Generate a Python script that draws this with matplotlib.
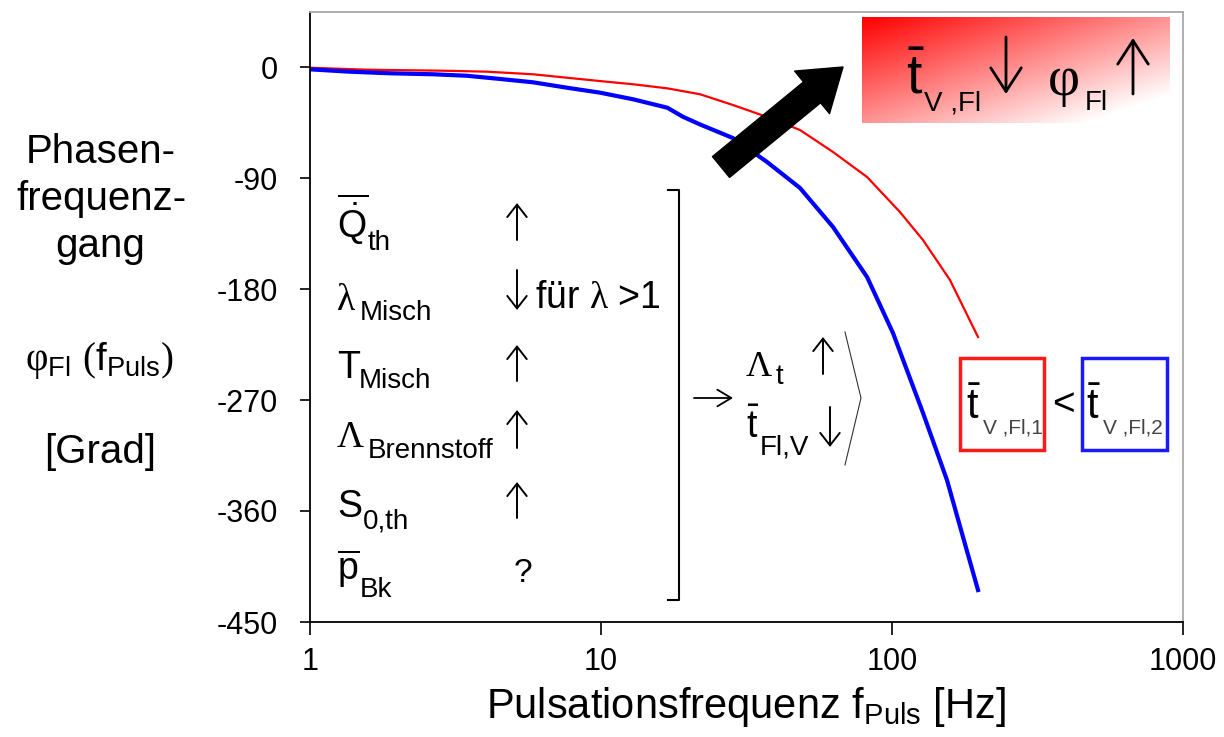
import numpy as np
import matplotlib.pyplot as plt
from matplotlib.patches import Rectangle
from matplotlib.lines import Line2D
from matplotlib.ticker import NullLocator

plt.rcParams['font.family'] = ['Liberation Sans', 'DejaVu Sans']
plt.rcParams['mathtext.fontset'] = 'custom'
plt.rcParams['mathtext.rm'] = 'Liberation Sans'
plt.rcParams['mathtext.it'] = 'Liberation Sans:italic'
plt.rcParams['mathtext.sf'] = 'Liberation Serif'
plt.rcParams['mathtext.bf'] = 'Liberation Sans:bold'

# phase response (frequency in Hz, phase in degrees)
freq_red = [1.0, 1.57, 2.86, 4.06, 5.84, 7.64, 9.92, 12.9, 16.9, 21.9, 28.4, 37.2,
            48.3, 62.7, 82.1, 106.5, 127.8, 158.2, 197.5]
phase_red = [-0.6, -2.2, -3.0, -3.8, -5.9, -8.7, -11.4, -14.0, -17.3, -22.1, -30.8,
             -40.5, -51.1, -68.9, -89.2, -117.6, -140.3, -172.7, -218.9]

freq_blue = [1.0, 1.37, 1.88, 2.65, 3.46, 4.50, 5.84, 7.64, 9.92, 12.9, 16.9, 19.1,
             21.9, 28.4, 37.2, 48.3, 62.7, 82.1, 100.8, 127.8, 154.5, 175.4, 197.5]
phase_blue = [-1.9, -3.8, -5.1, -5.9, -7.1, -9.7, -12.4, -16.8, -20.8, -26.2, -33.0,
              -40.3, -46.6, -57.6, -77.0, -98.1, -129.7, -170.3, -215.7, -280.5,
              -334.9, -381.1, -424.1]

xticks = [1, 10, 100, 1000]
xtick_labels = ['1', '10', '100', '1000']
yticks = [0, -90, -180, -270, -360, -450]
ytick_labels = ['0', '-90', '-180', '-270', '-360', '-450']

W, H = 1224, 737
SANS = ['Liberation Sans', 'DejaVu Sans']
SERIF = ['Liberation Serif', 'DejaVu Serif']

fig = plt.figure(figsize=(W / 100, H / 100), dpi=100)
ax = fig.add_axes([310 / W, 1 - 622 / H, (1183 - 310) / W, (622 - 11.5) / H])

ax.plot(freq_red, phase_red, color='#ff0000', lw=1.6)
ax.plot(freq_blue, phase_blue, color='#0000ff', lw=3)

ax.set_xscale('log')
ax.set_xlim(1, 1000)
ax.set_ylim(-450, 45)
ax.set_xticks(xticks)
ax.set_xticklabels(xtick_labels)
ax.xaxis.set_minor_locator(NullLocator())
ax.set_yticks(yticks)
ax.set_yticklabels(ytick_labels)
ax.tick_params(axis='y', direction='out', length=7, width=1.2, pad=16, labelsize=22)
ax.tick_params(axis='x', direction='out', length=9, width=1.2, pad=9, labelsize=22)
for side in ['top', 'right']:
    ax.spines[side].set_color('#a8a8a8')
    ax.spines[side].set_linewidth(1.3)
for side in ['left', 'bottom']:
    ax.spines[side].set_linewidth(1.3)

# gradient box top right
gax = fig.add_axes([862 / W, 1 - 123 / H, 308 / W, 106 / H])
u, v = np.meshgrid(np.linspace(0, 1, 200), np.linspace(0, 1, 80))
t = np.clip((u + v) / 2 * 1.15, 0, 1)
grad = np.dstack([np.ones_like(t), t, t])
gax.imshow(grad, aspect='auto', interpolation='bilinear')
gax.axis('off')


def ftext(x, y, s, size, family=SANS, ha='left', va='baseline', **kw):
    return fig.text(x / W, 1 - y / H, s, fontsize=size, family=family,
                    ha=ha, va=va, **kw)


def arrow(x0, y0, x1, y1, lw=1.4, hl=0.9, hw=0.7, host=ax):
    # thin open arrow, coordinates in image pixels (y down)
    host.annotate('', xy=(x1, H - y1), xytext=(x0, H - y0),
                  xycoords='figure pixels', textcoords='figure pixels',
                  arrowprops=dict(arrowstyle=f'->,head_length={hl},head_width={hw}',
                                  color='black', lw=lw, shrinkA=0, shrinkB=0,
                                  mutation_scale=10),
                  annotation_clip=False)


# x label
ftext(746, 718, r'Pulsationsfrequenz f$_{\mathrm{Puls}}$ [Hz]', 30, ha='center')

# y label block
ftext(101, 163, 'Phasen-', 29, ha='center')
ftext(101, 210, 'frequenz-', 29, ha='center')
ftext(100, 257, 'gang', 29, ha='center')
ftext(99, 370, r'$\mathsf{\varphi}_{\mathrm{Fl}}\ \mathsf{(}\mathrm{f}_{\mathrm{Puls}}\mathsf{)}$',
      28, ha='center')
ftext(100, 463, '[Grad]', 29, ha='center')

# parameter list
ftext(337, 238, r'$\overline{\dot{\mathrm{Q}}}$', 27)
ftext(368, 250, 'th', 20)
ftext(337, 310, 'λ', 27, family=SERIF)
ftext(360, 320, 'Misch', 20)
ftext(337, 378, 'T', 27)
ftext(359, 388, 'Misch', 20)
ftext(337, 447, 'Λ', 27, family=SERIF)
ftext(368, 458, 'Brennstoff', 20)
ftext(337, 517, 'S', 27)
ftext(363, 528, '0,th', 20)
ftext(337, 580, r'$\overline{\mathrm{p}}$', 27)
ftext(360, 597, 'Bk', 20)

arrow(517, 240, 517, 203)
arrow(517, 270, 517, 310)
arrow(517, 381, 517, 345)
arrow(517, 448, 517, 410)
arrow(517, 518, 517, 482)
ftext(523, 574, '?', 24, ha='center', va='center')
ftext(535, 308, r'für $\mathsf{\lambda}$ >1', 27)

fig.add_artist(Line2D([668 / W, 679 / W, 679 / W, 668 / W],
                      [1 - 190 / H, 1 - 190 / H, 1 - 600 / H, 1 - 600 / H],
                      color='black', lw=1.5))

# consequence
arrow(694, 398, 733, 398, lw=1.3, hl=1.0, hw=0.6)
ftext(746, 376, 'Λ', 26, family=SERIF)
ftext(776, 384, 't', 20)
arrow(823, 374, 823, 337)
ftext(746, 438, r'$\bar{\mathrm{t}}$', 27)
ftext(760, 454, 'Fl,V', 20)
arrow(830, 407, 830, 447)
fig.add_artist(Line2D([845 / W, 861 / W, 845 / W],
                      [1 - 332 / H, 1 - 398 / H, 1 - 465 / H],
                      color='#333333', lw=0.8))

# text inside gradient box
ftext(906, 94, r'$\bar{\mathrm{t}}$', 40)
ftext(924, 110, 'V ,Fl', 20)
arrow(1006, 37, 1006, 94, lw=2.0, hl=1.7, hw=1.1, host=gax)
ftext(1048, 95, 'φ', 40, family=SERIF)
ftext(1085, 110, 'Fl', 20)
arrow(1133, 94, 1133, 38, lw=2.0, hl=1.7, hw=1.1, host=gax)

# black arrow
ax.annotate('', xy=(843, H - 67), xytext=(721, H - 167),
            xycoords='figure pixels', textcoords='figure pixels',
            arrowprops=dict(arrowstyle='simple,head_length=1.44,head_width=1.98,tail_width=0.97',
                            color='black', mutation_scale=20, shrinkA=0, shrinkB=0),
            annotation_clip=False)

# comparison boxes
fig.add_artist(Rectangle((960 / W, 1 - 450 / H), 84 / W, 92 / H, transform=fig.transFigure,
                         fill=False, ec='#ff1a1a', lw=2.5))
fig.add_artist(Rectangle((1082 / W, 1 - 450 / H), 85 / W, 92 / H, transform=fig.transFigure,
                         fill=False, ec='#1a1aff', lw=2.5))
ftext(966, 419, r'$\bar{\mathrm{t}}$', 30)
ftext(983, 433, 'V ,Fl,1', 15, color='#444444')
ftext(1063, 405, '<', 28, ha='center', va='center')
ftext(1086, 419, r'$\bar{\mathrm{t}}$', 30)
ftext(1103, 433, 'V ,Fl,2', 15, color='#444444')

fig.savefig('out.png', dpi=100)
